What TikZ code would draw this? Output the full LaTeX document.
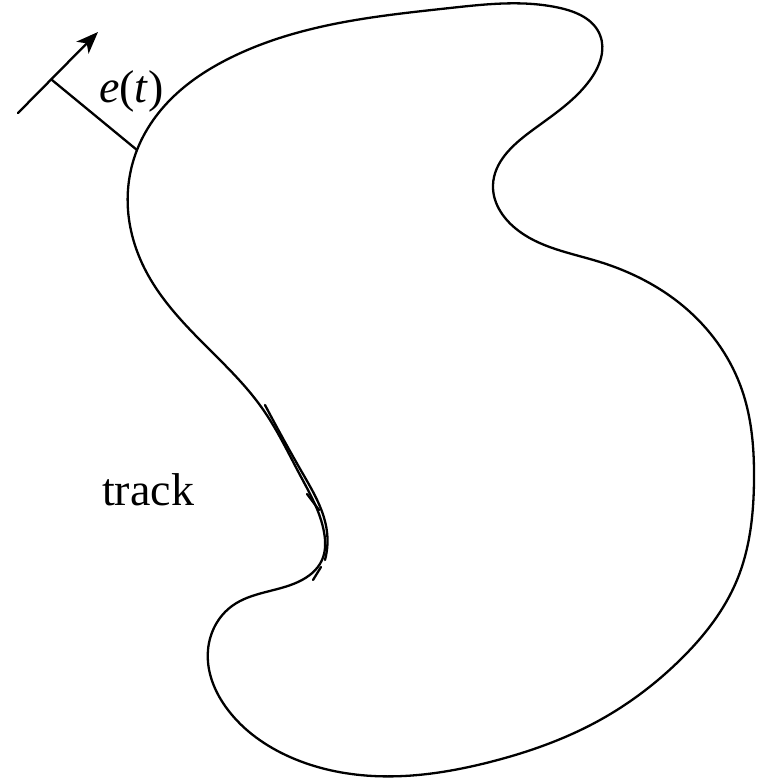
\documentclass[tikz,border=0pt]{standalone}
\usepackage{fontspec}
\setmainfont{Liberation Serif}
\usetikzlibrary{arrows.meta,hobby}
\begin{document}
\begin{tikzpicture}[x=1pt,y=-1pt,
  trk/.style={line width=2.3pt,line join=round,line cap=round},
  lbl/.style={inner sep=0pt,font=\fontsize{46}{50}\selectfont}]
\useasboundingbox (0,0) rectangle (763,778);
\draw[trk] plot[closed hobby] coordinates {
 (137,150) (170,100) (230,58) (320,27) (450,8) (560,8) (600,35) (590,80)
 (530,132) (493,185) (515,228) (600,262) (690,312) (742,390) (754,480)
 (737,580) (680,660) (600,720) (490,762) (373,776) (290,757) (228,710)
 (208,650) (232,606) (298,582) (322,560) (324,532) (300,475) (262,408)
 (200,340) (148,275) (128,210)};
\draw[trk] plot[hobby] coordinates {(265,405) (303,474) (327,532) (325,560)};
\draw[trk] (307,494) -- (319,510);
\draw[trk] (313,580) -- (321,567);
\coordinate (foot) at (137,150);
\coordinate (base) at (52,80);
\coordinate (tail) at (18,113);
\coordinate (tip) at (98,32);
\draw[trk,-{Stealth[length=22pt,width=17pt,inset=6pt]}] (tail) -- (tip);
\draw[trk] (base) -- (foot);
\node[lbl,anchor=base west] (et) at (99,103) {\textit{e}(\textit{t})};
\node[lbl,anchor=base west] (track) at (102,505) {track};
\end{tikzpicture}
\end{document}
